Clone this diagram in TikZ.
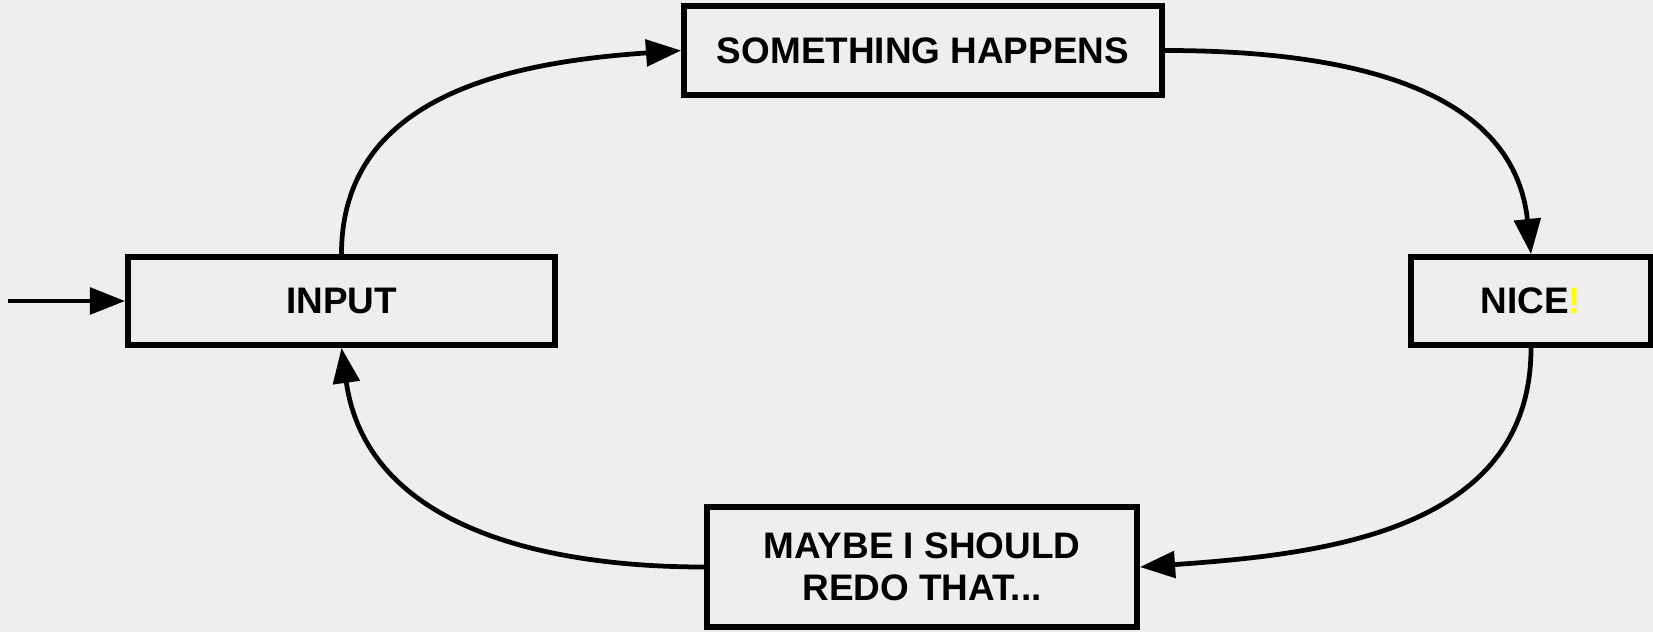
\documentclass[tikz,border=0pt]{standalone}
\usepackage{fontspec}
\setmainfont{Liberation Sans}
\usetikzlibrary{arrows.meta}
\definecolor{paper}{HTML}{EFEDED}
\definecolor{ink}{HTML}{000000}
\definecolor{shout}{HTML}{FFFF00}

\begin{document}
\begin{tikzpicture}[every node/.style={font=\fontsize{21}{24}\selectfont\bfseries,text=ink},box/.style={draw=ink,line width=3.3pt,minimum height=1.76cm,inner sep=0pt,align=center},flow/.style={ink,line width=2.7pt,-{Triangle[length=20pt,width=15pt]}}]
\useasboundingbox (0,0) rectangle (33.06,12.64);
\fill[paper] (0,0) rectangle (33.06,12.64);
\node[box,minimum width=9.56cm,minimum height=1.78cm] (happens) at (18.46,11.63){SOMETHING HAPPENS};
\node[box,minimum width=8.54cm] (input) at (6.83,6.62){INPUT};
\node[box,minimum width=4.8cm] (nice) at (30.62,6.62){NICE\textcolor{shout}{!}};
\node[box,minimum width=8.6cm,minimum height=2.4cm] (redo) at (18.44,1.3){MAYBE I SHOULD\\REDO THAT...};
\coordinate (start) at (0.16,6.62);
\draw[flow] (start)--(input);
\draw[flow] (input.north) to[out=90,in=184,looseness=1.05] (happens.west);
\draw[flow] (happens.east) to[out=0,in=96,looseness=1.05] (nice.north);
\draw[flow] (nice.south) to[out=270,in=4,looseness=1.05] (redo.east);
\draw[flow] (redo.west) to[out=180,in=278,looseness=1.05] (input.south);
\end{tikzpicture}
\end{document}
